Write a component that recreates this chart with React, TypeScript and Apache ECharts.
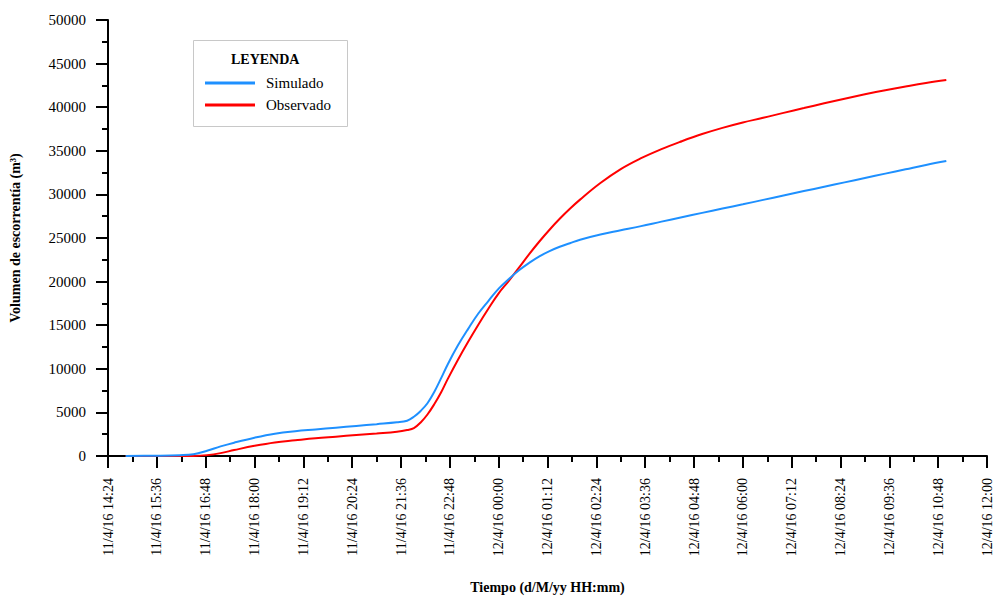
import React, { useEffect, useRef } from "react";
import * as echarts from "echarts";

const times = [
  "11/4/16 14:50", "11/4/16 15:30", "11/4/16 16:10", "11/4/16 16:30", "11/4/16 16:50",
  "11/4/16 17:10", "11/4/16 17:30", "11/4/16 18:00", "11/4/16 18:30", "11/4/16 19:00",
  "11/4/16 19:30", "11/4/16 20:00", "11/4/16 20:30", "11/4/16 21:00", "11/4/16 21:30",
  "11/4/16 21:45", "11/4/16 21:55", "11/4/16 22:05", "11/4/16 22:15", "11/4/16 22:25",
  "11/4/16 22:35", "11/4/16 22:45", "11/4/16 23:00", "11/4/16 23:15", "11/4/16 23:30",
  "11/4/16 23:45", "12/4/16 00:00", "12/4/16 00:15", "12/4/16 00:30", "12/4/16 00:45",
  "12/4/16 01:00", "12/4/16 01:15", "12/4/16 01:30", "12/4/16 01:45", "12/4/16 02:00",
  "12/4/16 02:30", "12/4/16 03:00",
  "12/4/16 03:30", "12/4/16 04:00", "12/4/16 04:30", "12/4/16 05:00", "12/4/16 05:30",
  "12/4/16 06:00", "12/4/16 06:30", "12/4/16 07:00", "12/4/16 07:30", "12/4/16 08:00",
  "12/4/16 08:30", "12/4/16 09:00", "12/4/16 09:30", "12/4/16 10:00", "12/4/16 10:30",
  "12/4/16 11:00",
];

const simulado = [
  0, 30, 90, 200, 600,
  1100, 1530, 2100, 2560, 2850,
  3050, 3250, 3450, 3650, 3860,
  4050, 4500, 5170, 6050, 7340,
  8900, 10530, 12690, 14580, 16340,
  17800, 19200, 20300, 21300, 22150,
  22900, 23500, 24000, 24400, 24800,
  25400, 25880,
  26360, 26880, 27380, 27880, 28380,
  28860, 29370, 29880, 30380, 30880,
  31380, 31880, 32380, 32880, 33380,
  33830,
];

const observado = [
  0, 0, 0, 10, 100,
  330, 680, 1170, 1560, 1800,
  2030, 2220, 2410, 2590, 2790,
  2980, 3200, 3850, 4760, 5930,
  7280, 8840, 11040, 13100, 15060,
  16920, 18660, 20080, 21600, 23150,
  24600, 25950, 27200, 28350, 29400,
  31300, 32900,
  34150, 35200, 36100, 36920, 37630,
  38250, 38780, 39350, 39900, 40450,
  40980, 41480, 41950, 42380, 42780,
  43120,
];

const seriesNames = ["Simulado", "Observado"];
const legendTitle = "LEYENDA";
const xTitle = "Tiempo (d/M/yy HH:mm)";
const yTitle = "Volumen de escorrentía (m³)";

// axis start: 11/4/16 14:24 ; ticks every 72 min up to 12/4/16 12:00
const axisStartDay = 11;
const axisStartMinutes = 14 * 60 + 24;
const axisSpan = 1296;
const tickStep = 72;

function toMinutes(s: string): number {
  const [d, hm] = s.split(" ");
  const day = parseInt(d.split("/")[0], 10);
  const [h, m] = hm.split(":").map((v) => parseInt(v, 10));
  return (day - axisStartDay) * 1440 + h * 60 + m - axisStartMinutes;
}

function fmt(t: number): string {
  const total = axisStartMinutes + Math.round(t);
  const day = axisStartDay + Math.floor(total / 1440);
  const mins = total % 1440;
  const h = Math.floor(mins / 60);
  const m = mins % 60;
  const pad = (n: number) => (n < 10 ? "0" + n : "" + n);
  return `${day}/4/16 ${pad(h)}:${pad(m)}`;
}

const FONT = "Liberation Serif";

export default function App() {
  const ref = useRef<HTMLDivElement>(null);
  useEffect(() => {
    if (!ref.current) return;
    const chart = echarts.init(ref.current, null, { renderer: "svg" });
    const simData = times.map((t, i) => [toMinutes(t), simulado[i]]);
    const obsData = times.map((t, i) => [toMinutes(t), observado[i]]);
    chart.setOption({
      animation: false,
      backgroundColor: "#ffffff",
      textStyle: { fontFamily: FONT, color: "#000" },
      grid: { left: 103, top: 20, width: 885, height: 441, containLabel: false },
      xAxis: {
        type: "value",
        min: 0,
        max: axisSpan,
        interval: tickStep,
        name: xTitle,
        nameLocation: "middle",
        nameGap: 124,
        nameTextStyle: { fontFamily: FONT, fontSize: 14, fontWeight: "bold", color: "#000" },
        axisLine: { show: true, onZero: false, lineStyle: { color: "#000", width: 2 } },
        axisTick: { show: true, inside: false, length: 12, lineStyle: { color: "#000", width: 2 } },
        minorTick: { show: true, splitNumber: 2, length: 6, lineStyle: { color: "#000", width: 2 } },
        splitLine: { show: false },
        axisLabel: {
          rotate: 90,
          margin: 22,
          fontFamily: FONT,
          fontSize: 14,
          color: "#000",
          formatter: (v: number) => fmt(v),
          showMinLabel: true,
          showMaxLabel: true,
        },
      },
      yAxis: {
        type: "value",
        min: 0,
        max: 50000,
        interval: 5000,
        name: yTitle,
        nameLocation: "middle",
        nameGap: 86,
        nameTextStyle: { fontFamily: FONT, fontSize: 14, fontWeight: "bold", color: "#000" },
        axisLine: { show: true, lineStyle: { color: "#000", width: 2 } },
        axisTick: { show: true, inside: false, length: 12, lineStyle: { color: "#000", width: 2 } },
        minorTick: { show: true, splitNumber: 2, length: 6, lineStyle: { color: "#000", width: 2 } },
        splitLine: { show: false },
        axisLabel: {
          margin: 22,
          fontFamily: FONT,
          fontSize: 15,
          color: "#000",
          formatter: (v: number) => String(v),
        },
      },
      legend: {
        show: true,
        orient: "vertical",
        left: 200,
        top: 70,
        itemWidth: 50,
        itemHeight: 3,
        itemGap: 6,
        icon: "rect",
        data: seriesNames,
        textStyle: { fontFamily: FONT, fontSize: 15, color: "#000", padding: [0, 0, 0, 6], lineHeight: 16 },
      },
      graphic: [
        {
          type: "rect",
          left: 193,
          top: 40,
          shape: { width: 154, height: 86 },
          style: { fill: "#fff", stroke: "#c8c8c8", lineWidth: 1 },
          z: -1,
        },
        {
          type: "text",
          left: 231,
          top: 52,
          style: { text: legendTitle, font: `bold 14px ${FONT}`, fill: "#000" },
        },
      ],
      series: [
        {
          name: seriesNames[1],
          type: "line",
          data: obsData,
          smooth: 0.4,
          showSymbol: false,
          symbol: "none",
          lineStyle: { color: "#FF0000", width: 2 },
          itemStyle: { color: "#FF0000" },
          z: 2,
        },
        {
          name: seriesNames[0],
          type: "line",
          data: simData,
          smooth: 0.4,
          showSymbol: false,
          symbol: "none",
          lineStyle: { color: "#1E90FF", width: 2 },
          itemStyle: { color: "#1E90FF" },
          z: 3,
        },
      ],
    });
    return () => chart.dispose();
  }, []);
  return (
    <div
      ref={ref}
      style={{ position: "fixed", left: 0, top: 0, width: 994, height: 599, background: "#fff" }}
    />
  );
}
